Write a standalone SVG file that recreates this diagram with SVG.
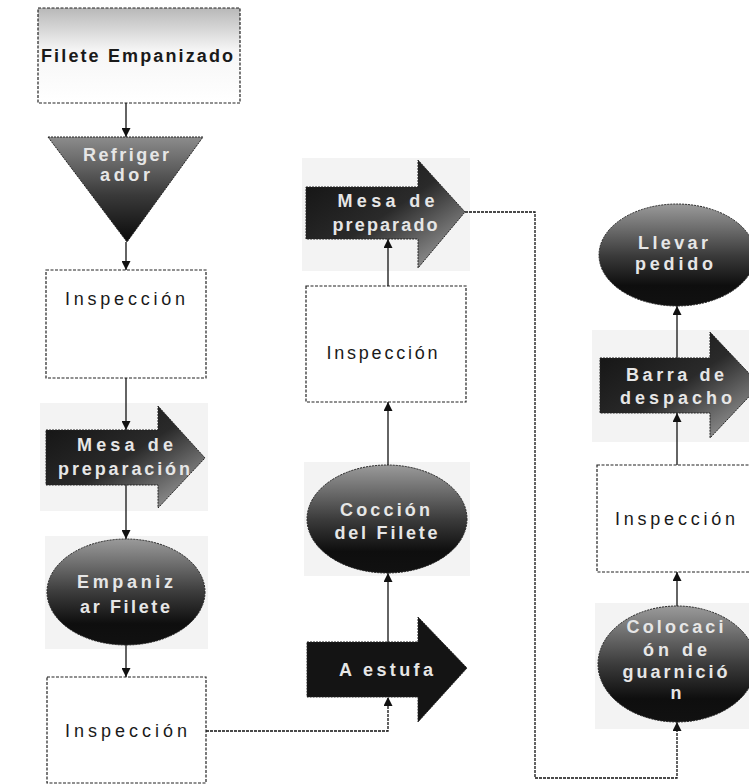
<svg xmlns="http://www.w3.org/2000/svg" width="749" height="784" viewBox="0 0 749 784">
  <defs>
    <linearGradient id="gTop" x1="0" y1="0" x2="0" y2="1">
      <stop offset="0" stop-color="#b8b8b8"/>
      <stop offset="0.45" stop-color="#f6f6f6"/>
      <stop offset="1" stop-color="#ffffff"/>
    </linearGradient>
    <linearGradient id="gTri" x1="0" y1="0" x2="0" y2="1">
      <stop offset="0" stop-color="#8c8c8c"/>
      <stop offset="0.55" stop-color="#3a3a3a"/>
      <stop offset="1" stop-color="#0a0a0a"/>
    </linearGradient>
    <linearGradient id="gOval" x1="0" y1="0" x2="0" y2="1">
      <stop offset="0" stop-color="#9a9a9a"/>
      <stop offset="0.5" stop-color="#3c3c3c"/>
      <stop offset="0.8" stop-color="#0e0e0e"/>
      <stop offset="1" stop-color="#111"/>
    </linearGradient>
    <linearGradient id="gArrow" x1="0" y1="0" x2="1" y2="1">
      <stop offset="0" stop-color="#101010"/>
      <stop offset="0.5" stop-color="#2a2a2a"/>
      <stop offset="1" stop-color="#b0b0b0"/>
    </linearGradient>
    <marker id="ah" viewBox="0 0 10 10" refX="10" refY="5" markerWidth="9" markerHeight="9" markerUnits="userSpaceOnUse" orient="auto">
      <path d="M0,0 L10,5 L0,10 Z" fill="#111"/>
    </marker>
    <style>
      .box { fill: #fff; stroke: #222; stroke-width: 1.2; stroke-dasharray: 3 1.5; }
      .shape { stroke: #222; stroke-width: 1; stroke-dasharray: 2 1; }
      .halo { fill: #f3f3f3; }
      .lbl { font-family: "Liberation Sans", Arial, sans-serif; font-size: 18px; text-anchor: middle; }
      .dark { fill: #1a1a1a; }
      .light { fill: #e6e6e6; font-weight: bold; }
      .conn { fill: none; stroke: #111; stroke-width: 1.3; }
      .connd { fill: none; stroke: #111; stroke-width: 1.3; stroke-dasharray: 3 1; }
    </style>
  </defs>

  <rect width="749" height="784" fill="#ffffff"/>

  <!-- soft backdrops behind the shaded shapes -->
  <g id="backdrops">
    <rect class="halo" x="40" y="403" width="168" height="108"/>
    <rect class="halo" x="45" y="536" width="163" height="113"/>
    <rect class="halo" x="304" y="462" width="166" height="114"/>
    <rect class="halo" x="302" y="158" width="168" height="113"/>
    <rect class="halo" x="595" y="603" width="154" height="126"/>
    <rect class="halo" x="592" y="330" width="157" height="112"/>
  </g>

  <!-- left column -->
  <g id="filete-empanizado">
    <rect class="box" x="38" y="8" width="202" height="95" style="fill:url(#gTop)"/>
    <text class="lbl dark" x="137" y="62" font-weight="bold" textLength="192" lengthAdjust="spacing">Filete Empanizado</text>
  </g>

  <g id="refrigerador">
    <path class="shape" d="M48,137 H203 L127,242 Z" fill="url(#gTri)"/>
    <text class="lbl light" x="126" y="161" textLength="86" lengthAdjust="spacing">Refriger</text>
    <text class="lbl light" x="125" y="181" textLength="50" lengthAdjust="spacing">ador</text>
  </g>

  <g id="inspeccion-1">
    <rect class="box" x="46" y="270" width="160" height="108"/>
    <text class="lbl dark" x="125" y="305" textLength="120" lengthAdjust="spacing">Inspección</text>
  </g>

  <g id="mesa-de-preparacion">
    <path class="shape" d="M46,430 H158 V406 L205,458 L158,508 V485 H46 Z" fill="url(#gArrow)"/>
    <text class="lbl light" x="125" y="451" textLength="96" lengthAdjust="spacing">Mesa de</text>
    <text class="lbl light" x="124" y="475" textLength="132" lengthAdjust="spacing">preparación</text>
  </g>

  <g id="empanizar-filete">
    <ellipse class="shape" cx="126" cy="592" rx="79" ry="53" fill="url(#gOval)"/>
    <text class="lbl light" x="125" y="588" textLength="96" lengthAdjust="spacing">Empaniz</text>
    <text class="lbl light" x="125" y="613" textLength="90" lengthAdjust="spacing">ar Filete</text>
  </g>

  <g id="inspeccion-2">
    <rect class="box" x="47" y="677" width="159" height="106"/>
    <text class="lbl dark" x="126" y="737" textLength="122" lengthAdjust="spacing">Inspección</text>
  </g>

  <!-- middle column -->
  <g id="a-estufa">
    <path class="shape" d="M307,642 H418 V617 L467,668 L418,722 V697 H307 Z" fill="#141414"/>
    <text class="lbl light" x="386" y="676" textLength="94" lengthAdjust="spacing">A estufa</text>
  </g>

  <g id="coccion-del-filete">
    <ellipse class="shape" cx="387" cy="519" rx="80" ry="54" fill="url(#gOval)"/>
    <text class="lbl light" x="385" y="516" textLength="90" lengthAdjust="spacing">Cocción</text>
    <text class="lbl light" x="386" y="539" textLength="103" lengthAdjust="spacing">del Filete</text>
  </g>

  <g id="inspeccion-3">
    <rect class="box" x="306" y="286" width="160" height="116"/>
    <text class="lbl dark" x="382" y="359" textLength="111" lengthAdjust="spacing">Inspección</text>
  </g>

  <g id="mesa-de-preparado">
    <path class="shape" d="M306,187 H418 V160 L465,212 L418,268 V239 H306 Z" fill="url(#gArrow)"/>
    <text class="lbl light" x="386" y="207" textLength="97" lengthAdjust="spacing">Mesa de</text>
    <text class="lbl light" x="385" y="231" textLength="105" lengthAdjust="spacing">preparado</text>
  </g>

  <!-- right column -->
  <g id="colocacion-de-guarnicion">
    <ellipse class="shape" cx="677" cy="664" rx="79" ry="58" fill="url(#gOval)"/>
    <text class="lbl light" x="675" y="633" textLength="97" lengthAdjust="spacing">Colocaci</text>
    <text class="lbl light" x="675" y="656" textLength="64" lengthAdjust="spacing">ón de</text>
    <text class="lbl light" x="675" y="678" textLength="105" lengthAdjust="spacing">guarnició</text>
    <text class="lbl light" x="676" y="699">n</text>
  </g>

  <g id="inspeccion-4">
    <rect class="box" x="597" y="465" width="162" height="107"/>
    <text class="lbl dark" x="675" y="525" textLength="120" lengthAdjust="spacing">Inspección</text>
  </g>

  <g id="barra-de-despacho">
    <path class="shape" d="M600,358 H710 V332 L760,385 L710,438 V413 H600 Z" fill="url(#gArrow)"/>
    <text class="lbl light" x="675" y="381" textLength="98" lengthAdjust="spacing">Barra de</text>
    <text class="lbl light" x="676" y="404" textLength="112" lengthAdjust="spacing">despacho</text>
  </g>

  <g id="llevar-pedido">
    <ellipse class="shape" cx="677" cy="255" rx="78" ry="51" fill="url(#gOval)"/>
    <text class="lbl light" x="673" y="249" textLength="70" lengthAdjust="spacing">Llevar</text>
    <text class="lbl light" x="674" y="270" textLength="78" lengthAdjust="spacing">pedido</text>
  </g>

  <!-- connectors -->
  <g id="connectors">
    <path class="conn" d="M126,103 V137" marker-end="url(#ah)"/>
    <path class="conn" d="M126,242 V270" marker-end="url(#ah)"/>
    <path class="conn" d="M126,378 V430" marker-end="url(#ah)"/>
    <path class="conn" d="M126,485 V539" marker-end="url(#ah)"/>
    <path class="conn" d="M126,645 V677" marker-end="url(#ah)"/>
    <path class="connd" d="M206,731 H388 V697" marker-end="url(#ah)"/>
    <path class="conn" d="M388,642 V573" marker-end="url(#ah)"/>
    <path class="conn" d="M388,465 V402" marker-end="url(#ah)"/>
    <path class="conn" d="M388,286 V239" marker-end="url(#ah)"/>
    <path class="connd" d="M465,212 H535 V778 H677 V722" marker-end="url(#ah)"/>
    <path class="conn" d="M677,606 V572" marker-end="url(#ah)"/>
    <path class="conn" d="M677,465 V413" marker-end="url(#ah)"/>
    <path class="conn" d="M677,358 V306" marker-end="url(#ah)"/>
  </g>
</svg>
